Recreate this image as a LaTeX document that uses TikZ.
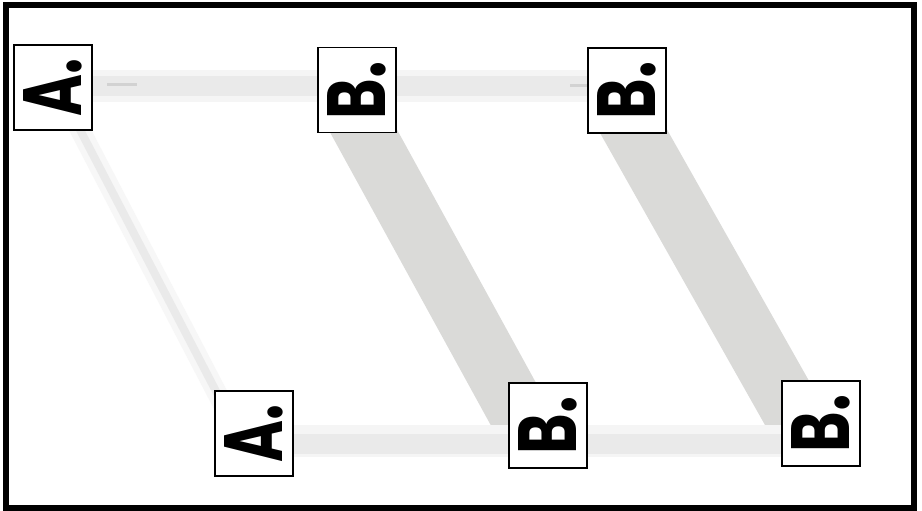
\documentclass[tikz,border=0pt]{standalone}
\usepackage{fontspec}
\usepackage{graphicx}
\newfontfamily\labfont{Poppins}
\usetikzlibrary{backgrounds}
\definecolor{bandgray}{RGB}{218,218,216}
\definecolor{hbandcol}{RGB}{234,234,234}
\definecolor{hbandglow}{RGB}{245,245,245}
\definecolor{thinglowcol}{RGB}{247,247,247}
\definecolor{thincore}{RGB}{234,234,234}
\definecolor{dashcol}{RGB}{210,210,210}
\newcommand{\lettertext}[1]{\rotatebox{90}{\resizebox{58pt}{58pt}{\labfont\bfseries #1}}}
\tikzset{
  lbox/.style={draw=black, line width=1.4pt, fill=white, minimum width=78pt, minimum height=85pt, inner sep=0pt},
  wideband/.style={draw=bandgray, line width=60pt},
  hglow/.style={draw=hbandglow, line width=32pt},
  hcore/.style={draw=hbandcol, line width=20pt},
  thinglow/.style={draw=thinglowcol, line width=20pt},
  thinline/.style={draw=thincore, line width=8pt},
  dashmark/.style={draw=dashcol, line width=3pt},
  frame/.style={draw=black, line width=6pt}
}
\begin{document}
\begin{tikzpicture}[x=1pt,y=-1pt]
\useasboundingbox (0,0) rectangle (922,511);
% label boxes
\node[lbox] (A1) at (53,87.5) {\lettertext{A.}};
\node[lbox] (B1) at (357,90) {\lettertext{B.}};
\node[lbox] (B2) at (627,90.5) {\lettertext{B.}};
\node[lbox] (A2) at (254,433.5) {\lettertext{A.}};
\node[lbox] (B3) at (548,425.5) {\lettertext{B.}};
\node[lbox] (B4) at (821,423.5) {\lettertext{B.}};
\begin{scope}[on background layer]
  \fill[white] (0,0) rectangle (922,511);
  % faint diagonal A -> A
  \draw[thinglow] ([xshift=5pt]A1.center) -- ([xshift=-16pt]A2.center);
  \draw[thinline] ([xshift=5pt]A1.center) -- ([xshift=-16pt]A2.center);
  % wide diagonal bands B -> B
  \draw[wideband] ([xshift=-5pt,yshift=-20pt]B1.center) -- ([xshift=-22pt,yshift=-1.5pt]B3.center);
  \draw[wideband] ([xshift=-5.5pt,yshift=-19.5pt]B2.center) -- ([xshift=-20.4pt,yshift=-3.5pt]B4.center);
  % top horizontal band
  \draw[hglow] ([yshift=1.5pt]A1.center) -- ([yshift=1.5pt]A1.center -| B2.center);
  \draw[hcore] ([yshift=1.5pt]A1.center) -- ([yshift=1.5pt]A1.center -| B2.center);
  \draw[dashmark] ([xshift=54pt,yshift=2.5pt]A1.center) -- ([xshift=84pt,yshift=2.5pt]A1.center);
  \draw[dashmark] ([xshift=-57pt,yshift=4.5pt]B2.center) -- ([xshift=-39pt,yshift=4.5pt]B2.center);
  % bottom horizontal band
  \draw[hglow] ([yshift=-7.5pt]A2.center) -- ([yshift=-7.5pt]A2.center -| B4.center);
  \draw[hcore] ([yshift=-10pt]A2.center) -- ([yshift=-10pt]A2.center -| B4.center);
\end{scope}
% outer frame
\draw[frame] (5.5,5.5) rectangle (913.5,507.5);
\end{tikzpicture}
\end{document}
